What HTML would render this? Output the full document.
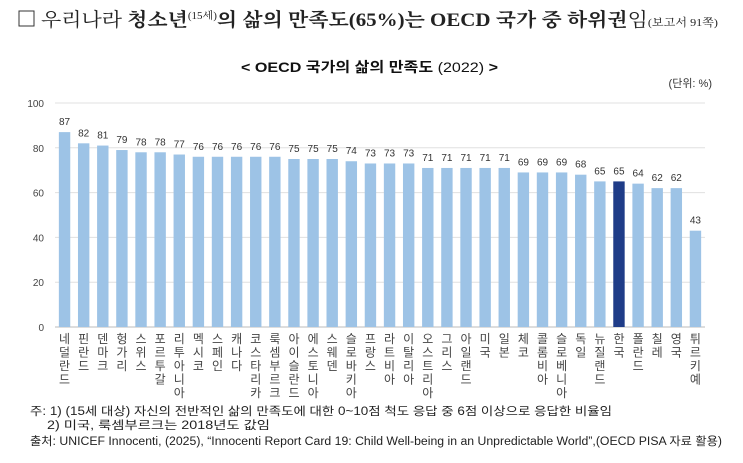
<!DOCTYPE html>
<html><head><meta charset="utf-8"><style>
body{margin:0;background:#fff;width:743px;height:458px;overflow:hidden;font-family:"Liberation Sans","Noto Sans CJK KR",sans-serif;}
</style></head><body>
<svg width="743" height="458" xmlns="http://www.w3.org/2000/svg" style="font-family:'Liberation Sans','Noto Sans CJK KR',sans-serif">
<g>
<rect x="19" y="11" width="15" height="15" fill="none" stroke="#333" stroke-width="1"/>
<text x="41" y="26" font-size="19" fill="#222" textLength="677" lengthAdjust="spacingAndGlyphs" font-family="'Liberation Serif','Noto Serif CJK SC','Noto Sans CJK KR',serif">우리나라 <tspan font-weight="bold">청소년</tspan><tspan font-size="10" dy="-7">(15세)</tspan><tspan dy="7" font-weight="bold">의 삶의 만족도(65%)는 OECD 국가 중 하위권</tspan>임<tspan font-size="11">(보고서 91쪽)</tspan></text>
</g>
<text x="241" y="72" font-size="14" textLength="257" lengthAdjust="spacingAndGlyphs" fill="#111" font-weight="bold">&lt; OECD 국가의 삶의 만족도 <tspan font-weight="normal">(2022)</tspan> &gt;</text>
<text x="712" y="87" font-size="11" text-anchor="end" fill="#333">(단위: %)</text>
<g id="grid"></g><g id="bars"></g><g id="notes" font-size="11.5" fill="#222">
<text x="30" y="415" textLength="582" lengthAdjust="spacingAndGlyphs">주: 1) (15세 대상) 자신의 전반적인 삶의 만족도에 대한 0~10점 척도 응답 중 6점 이상으로 응답한 비율임</text>
<text x="47" y="429" textLength="223" lengthAdjust="spacingAndGlyphs">2) 미국, 룩셈부르크는 2018년도 값임</text>
<text x="30" y="445" textLength="692" lengthAdjust="spacingAndGlyphs">출처: UNICEF Innocenti, (2025), “Innocenti Report Card 19: Child Well-being in an Unpredictable World”,(OECD PISA 자료 활용)</text>
</g>
</svg>
<script>
const categories=["네덜란드","핀란드","덴마크","헝가리","스위스","포르투갈","리투아니아","멕시코","스페인","캐나다","코스타리카","룩셈부르크","아이슬란드","에스토니아","스웨덴","슬로바키아","프랑스","라트비아","이탈리아","오스트리아","그리스","아일랜드","미국","일본","체코","콜롬비아","슬로베니아","독일","뉴질랜드","한국","폴란드","칠레","영국","튀르키예"];
const values=[87,82,81,79,78,78,77,76,76,76,76,76,75,75,75,74,73,73,73,71,71,71,71,71,69,69,69,68,65,65,64,62,62,43];
const yTicks=[0,20,40,60,80,100];
const highlight="한국";
const NS="http://www.w3.org/2000/svg";
const x0=55,x1=705,y0=327,yTop=103;
const step=(x1-x0)/categories.length;
const yS=v=>y0-(v/100)*(y0-yTop);
const xS=i=>x0+step*(i+0.5);
function mk(t,a,p){const e=document.createElementNS(NS,t);for(const k in a)e.setAttribute(k,a[k]);p.appendChild(e);return e;}
const grid=document.getElementById('grid'),bars=document.getElementById('bars');
yTicks.forEach(t=>{
 const l=mk('line',{x1:x0,x2:x1,y1:yS(t),y2:yS(t),stroke:t===0?'#bbb':'#e0e0e0','stroke-width':1},grid);
 
 
 const tx=mk('text',{x:44,y:yS(t)+4,'font-size':10,'text-anchor':'end',fill:'#444'},grid);
 tx.textContent=t;
 
 
});
categories.forEach((c,i)=>{
 const v=values[i],cx=xS(i),w=11.4;
 const r=mk('rect',{x:cx-w/2,y:yS(v),width:w,height:y0-yS(v),fill:c===highlight?'#1f3c88':'#9dc3e6'},bars);
 
 
 const vt=mk('text',{x:cx,y:yS(v)-7,'font-size':10,'text-anchor':'middle',fill:'#333'},bars);
 vt.textContent=v;
 
 
 const g=mk('text',{'font-size':12,'text-anchor':'middle',fill:'#444'},bars);
 
 
 [...c].forEach((ch,j)=>{const s=mk('tspan',{x:cx,y:343+j*13.5},g);s.textContent=ch;});
});
</script>
</body></html>
